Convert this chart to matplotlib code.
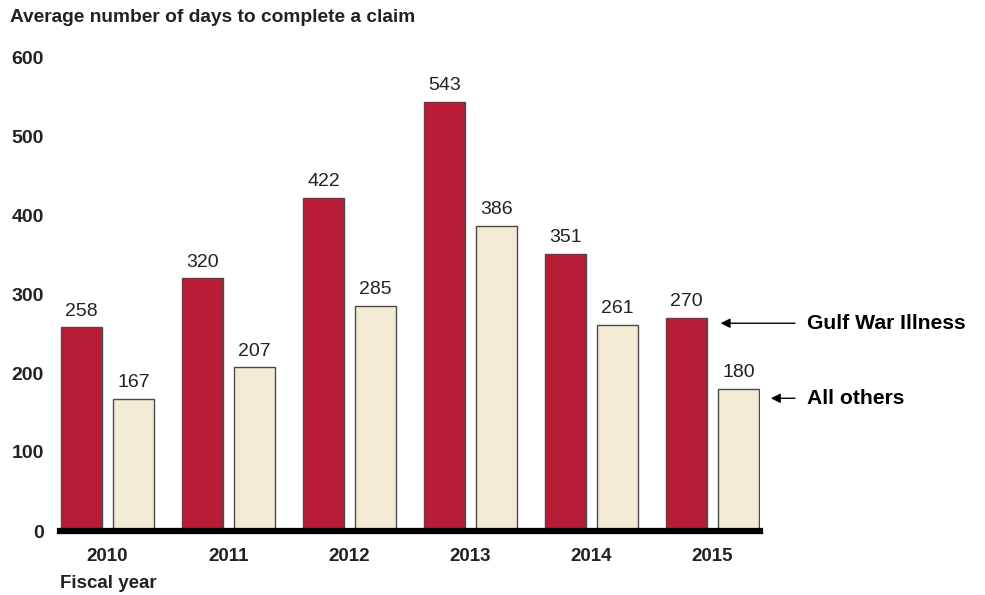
import numpy as np
import matplotlib.pyplot as plt

plt.rcParams['font.family'] = ['Liberation Sans', 'DejaVu Sans']

years = ["2010", "2011", "2012", "2013", "2014", "2015"]
gulf_war = [258, 320, 422, 543, 351, 270]
all_others = [167, 207, 285, 386, 261, 180]

RED = "#B91C36"
CREAM = "#F3EAD6"
EDGE = "#4a4a4a"
TXT = "#222222"

fig = plt.figure(figsize=(9.85, 5.95), dpi=100)
ax = fig.add_axes([60 / 985, 64 / 595, 700 / 985, 474 / 595])

x = np.arange(len(years))
width = 0.339
offset = 0.215
bars_red = ax.bar(x - offset, gulf_war, width, color=RED, edgecolor=EDGE, linewidth=1, zorder=2)
bars_cream = ax.bar(x + offset, all_others, width, color=CREAM, edgecolor=EDGE, linewidth=1, zorder=2)

for bars, vals in [(bars_red, gulf_war), (bars_cream, all_others)]:
    for b, v in zip(bars, vals):
        ax.annotate(f"{v}", (b.get_x() + b.get_width() / 2, v), xytext=(0, 5.5),
                    textcoords="offset points", ha="center", va="bottom",
                    fontsize=14, color=TXT)

ax.set_xlim(-0.393, len(years) - 1 + 0.393)
ax.set_ylim(0, 600)
ax.set_yticks([0, 100, 200, 300, 400, 500, 600])
ax.set_yticklabels([str(t) for t in [0, 100, 200, 300, 400, 500, 600]],
                   fontsize=14, fontweight="bold", color=TXT)
ax.tick_params(axis="y", length=0, pad=11.5)
ax.set_xticks(x)
ax.set_xticklabels(years, fontsize=13.5, fontweight="bold", color=TXT)
ax.tick_params(axis="x", length=0, pad=12.5)

for s in ["top", "right", "left"]:
    ax.spines[s].set_visible(False)
ax.spines["bottom"].set_linewidth(4.5)
ax.spines["bottom"].set_color("black")
ax.spines["bottom"].set_zorder(3)

fig.text(10 / 985, 1 - 17 / 595, "Average number of days to complete a claim",
         fontsize=13.75, fontweight="bold", color=TXT, ha="left", va="center")
fig.text(60 / 985, 1 - 583 / 595, "Fiscal year",
         fontsize=13.5, fontweight="bold", color=TXT, ha="left", va="center")

last = len(years) - 1
red_edge = last - offset + width / 2
cream_edge = last + offset + width / 2
ax.annotate("", xy=(red_edge + 0.09, 263), xytext=(cream_edge + 0.32, 263),
            arrowprops=dict(arrowstyle="-|>", color="black", lw=1, mutation_scale=14),
            annotation_clip=False)
ax.text(cream_edge + 0.40, 263, "Gulf War Illness", fontsize=15.2, fontweight="bold",
        color="black", ha="left", va="center", clip_on=False)
ax.annotate("", xy=(cream_edge + 0.075, 168), xytext=(cream_edge + 0.32, 168),
            arrowprops=dict(arrowstyle="-|>", color="black", lw=1, mutation_scale=14),
            annotation_clip=False)
ax.text(cream_edge + 0.40, 168, "All others", fontsize=15.2, fontweight="bold",
        color="black", ha="left", va="center", clip_on=False)

fig.savefig("out.png", dpi=100)
